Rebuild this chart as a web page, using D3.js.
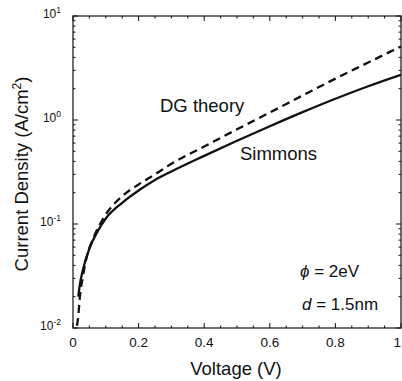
<!DOCTYPE html>
<html><head><meta charset="utf-8">
<script src="https://cdn.jsdelivr.net/npm/d3@7"></script>
<style>
body{margin:0;background:#fff}
svg{display:block}
text{font-family:"Liberation Sans",Arial,Helvetica,sans-serif;fill:#111}
</style>
</head><body>
<svg id="c" width="402" height="381"></svg>
<script>
// ---- data ----
const simmonsV = [0.016, 0.02, 0.03, 0.05, 0.075, 0.1, 0.15, 0.2, 0.25, 0.3, 0.4, 0.5, 0.6, 0.7, 0.8, 0.9, 1.0];
const simmonsJ = [0.020, 0.025, 0.036, 0.058, 0.085, 0.113, 0.16, 0.21, 0.265, 0.32, 0.452, 0.631, 0.871, 1.19, 1.60, 2.11, 2.72];
const dgV = [0.012, 0.016, 0.021, 0.03, 0.042, 0.062, 0.092, 0.15, 0.2, 0.25, 0.3, 0.4, 0.5, 0.6, 0.7, 0.8, 0.9, 1.0];
const dgJ = [0.0105, 0.013, 0.020, 0.031, 0.0485, 0.073, 0.113, 0.185, 0.24, 0.30, 0.38, 0.556, 0.813, 1.18, 1.72, 2.50, 3.57, 5.10];
const xTicks = [0, 0.2, 0.4, 0.6, 0.8, 1];
const xTickLabels = ["0", "0.2", "0.4", "0.6", "0.8", "1"];
const yTicks = [1e-2, 1e-1, 1e0, 1e1];
const yTickExps = ["-2", "-1", "0", "1"];
const seriesLabels = ["DG theory", "Simmons"];
const xTitle = "Voltage (V)";
const yTitle = "Current Density (A/cm";

// ---- layout ----
const L = 73, R = 401, T = 16, B = 328;
const svg = d3.select("#c");
const x = d3.scaleLinear().domain([0, 1]).range([L, R]);
const y = d3.scaleLog().domain([1e-2, 1e1]).range([B, T]);
const ink = "#111";

// frame
svg.append("rect").attr("x", L).attr("y", T).attr("width", R - L).attr("height", B - T)
  .attr("fill", "none").attr("stroke", ink).attr("stroke-width", 1.2);

// x ticks (inward, bottom and top)
const xMinor = d3.range(0, 1.0001, 0.05);
const isMajorX = v => xTicks.some(m => Math.abs(m - v) < 1e-6);
const gx = svg.append("g").attr("transform", `translate(0,${B})`);
gx.call(d3.axisBottom(x).tickValues(xMinor).tickSize(0).tickFormat("")).select(".domain").remove();
xMinor.forEach(v => {
  const len = isMajorX(v) ? 5 : 2.5;
  gx.append("line").attr("x1", x(v)).attr("x2", x(v)).attr("y1", 0).attr("y2", -len)
    .attr("stroke", ink).attr("stroke-width", 1);
  svg.append("line").attr("x1", x(v)).attr("x2", x(v)).attr("y1", T).attr("y2", T + len)
    .attr("stroke", ink).attr("stroke-width", 1);
});
xTicks.forEach((v, i) => {
  const last = i === xTicks.length - 1;
  svg.append("text").attr("x", last ? 401 : x(v)).attr("y", 347)
    .attr("text-anchor", last ? "end" : "middle")
    .attr("font-size", 13.5).text(xTickLabels[i]);
});

// y ticks (inward, left and right)
const yMinor = [];
for (let e = -2; e < 1; e++) for (let k = 1; k <= 9; k++) yMinor.push(k * Math.pow(10, e));
yMinor.push(10);
yMinor.forEach(v => {
  const major = yTicks.some(t => Math.abs(Math.log10(t) - Math.log10(v)) < 1e-6);
  const len = major ? 5 : 2.5;
  svg.append("line").attr("x1", L).attr("x2", L + len).attr("y1", y(v)).attr("y2", y(v))
    .attr("stroke", ink).attr("stroke-width", 1);
  svg.append("line").attr("x1", R).attr("x2", R - len).attr("y1", y(v)).attr("y2", y(v))
    .attr("stroke", ink).attr("stroke-width", 1);
});
yTicks.forEach((v, i) => {
  const t = svg.append("text").attr("x", 61).attr("y", y(v) + 2).attr("text-anchor", "end")
    .attr("font-size", 12);
  t.append("tspan").text("10");
  t.append("tspan").attr("dy", -5).attr("font-size", 8.5).text(yTickExps[i]);
});

// axis titles
svg.append("text").attr("x", 236).attr("y", 375).attr("text-anchor", "middle")
  .attr("font-size", 18.5).text(xTitle);
const yt = svg.append("text").attr("transform", "translate(28,174) rotate(-90)")
  .attr("text-anchor", "middle").attr("font-size", 18.5);
yt.append("tspan").text(yTitle);
yt.append("tspan").attr("dy", -7).attr("font-size", 12).text("2");
yt.append("tspan").attr("dy", 7).text(")");

// curves
const line = d3.line().x(d => x(d[0])).y(d => y(d[1])).curve(d3.curveMonotoneX);
svg.append("clipPath").attr("id", "pc").append("rect")
  .attr("x", L).attr("y", T).attr("width", R - L).attr("height", B - T);
svg.append("path").datum(dgV.map((v, i) => [v, dgJ[i]])).attr("d", line)
  .attr("fill", "none").attr("stroke", ink).attr("stroke-width", 2.3)
  .attr("stroke-dasharray", "8,5").attr("clip-path", "url(#pc)");
svg.append("path").datum(simmonsV.map((v, i) => [v, simmonsJ[i]])).attr("d", line)
  .attr("fill", "none").attr("stroke", ink).attr("stroke-width", 2.3)
  .attr("clip-path", "url(#pc)");

// labels
svg.append("text").attr("x", 160).attr("y", 112).attr("font-size", 18.5).text(seriesLabels[0]);
svg.append("text").attr("x", 240).attr("y", 160).attr("font-size", 18.5).text(seriesLabels[1]);

const p1 = svg.append("text").attr("x", 300).attr("y", 277).attr("font-size", 17);
p1.append("tspan").attr("font-style", "italic").text("\u03D5");
p1.append("tspan").text(" = 2eV");
const p2 = svg.append("text").attr("x", 302).attr("y", 310).attr("font-size", 17);
p2.append("tspan").attr("font-style", "italic").text("d");
p2.append("tspan").text(" = 1.5nm");
</script>
</body></html>
